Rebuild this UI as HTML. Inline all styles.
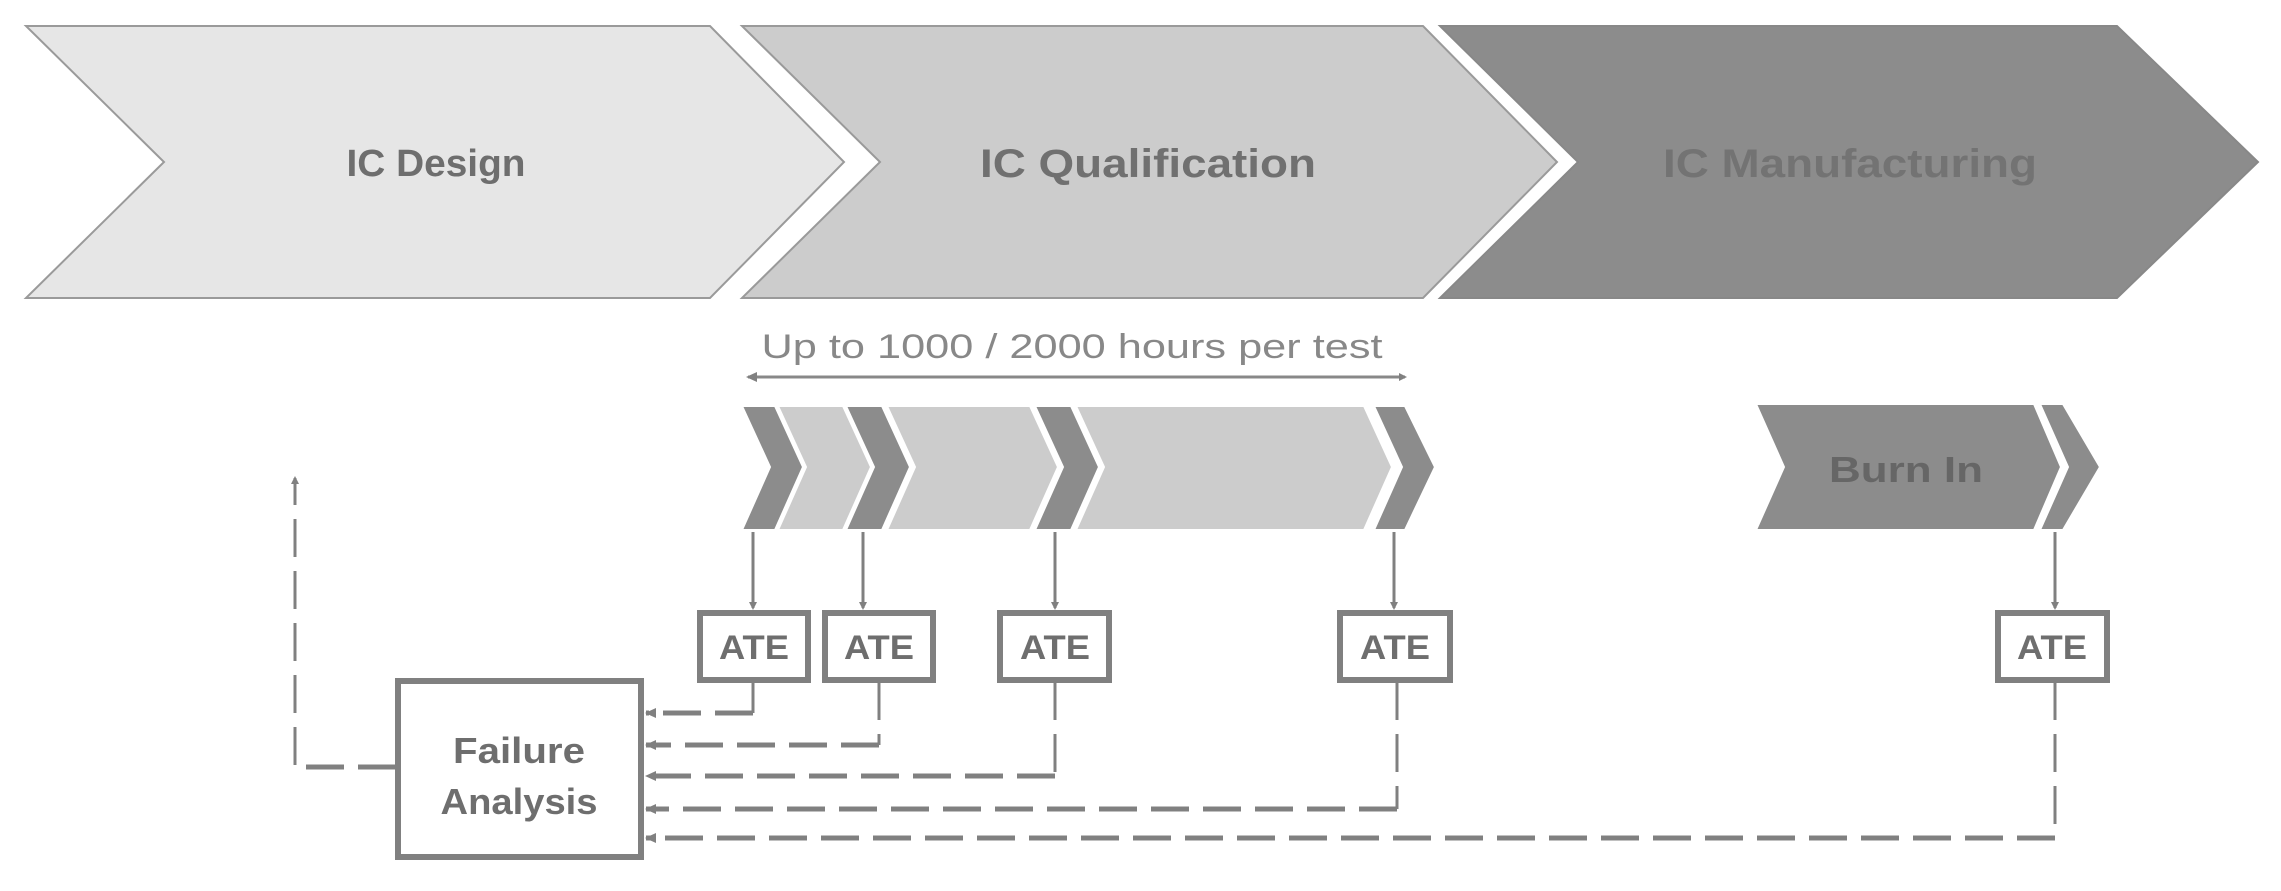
<!DOCTYPE html>
<html><head><meta charset="utf-8"><style>
html,body{margin:0;padding:0;background:#fff;}
svg{display:block;}
text{font-family:"Liberation Sans",sans-serif;}
</style></head><body>
<svg width="2281" height="891" viewBox="0 0 2281 891" xmlns="http://www.w3.org/2000/svg">
<defs>
<marker id="ah" markerWidth="8" markerHeight="8" refX="6" refY="4" orient="auto" markerUnits="userSpaceOnUse">
<path d="M0,0 L8,4 L0,8 z" fill="#808080"/></marker>
<marker id="ah2" markerWidth="12" markerHeight="12" refX="10" refY="6" orient="auto" markerUnits="userSpaceOnUse">
<path d="M0,1 L11,6 L0,11 z" fill="#808080"/></marker>
<marker id="ahs" markerWidth="12" markerHeight="12" refX="2" refY="6" orient="auto" markerUnits="userSpaceOnUse">
<path d="M11,1 L0,6 L11,11 z" fill="#808080"/></marker>
</defs>
<polygon points="26,26 710,26 844,162 710,298 26,298 164,162" fill="#e6e6e6" stroke="#9a9a9a" stroke-width="2"/>
<polygon points="742,26 1423,26 1557,162 1423,298 742,298 880,162" fill="#cccccc" stroke="#9a9a9a" stroke-width="2"/>
<polygon points="1440,26 2117,26 2258,162 2117,298 1440,298 1578,162" fill="#8c8c8c" stroke="#888" stroke-width="2"/>
<text x="436" y="176" font-size="38" font-weight="bold" fill="#6e6e6e" text-anchor="middle" textLength="179" lengthAdjust="spacingAndGlyphs">IC Design</text>
<text x="1148" y="177" font-size="40" font-weight="bold" fill="#707070" text-anchor="middle" textLength="336" lengthAdjust="spacingAndGlyphs">IC Qualification</text>
<text x="1850" y="177" font-size="40" font-weight="bold" fill="#737373" text-anchor="middle" textLength="374" lengthAdjust="spacingAndGlyphs">IC Manufacturing</text>
<text x="1072" y="358" font-size="34" fill="#888" text-anchor="middle" textLength="621" lengthAdjust="spacingAndGlyphs">Up to 1000 / 2000 hours per test</text>
<line x1="748" y1="377" x2="1405" y2="377" stroke="#888" stroke-width="3" marker-end="url(#ah)" marker-start="url(#ahs)"/>
<g stroke="#fff" stroke-width="2">
<polygon points="742,406 775,406 803,467 775,530 742,530 770,467" fill="#8c8c8c"/>
<polygon points="778,406 843,406 871,467 843,530 778,530 806,467" fill="#cccccc"/>
<polygon points="846,406 882,406 910,467 882,530 846,530 874,467" fill="#8c8c8c"/>
<polygon points="887,406 1030,406 1058,467 1030,530 887,530 915,467" fill="#cccccc"/>
<polygon points="1035,406 1071,406 1099,467 1071,530 1035,530 1063,467" fill="#8c8c8c"/>
<polygon points="1076,406 1364,406 1392,467 1364,530 1076,530 1104,467" fill="#cccccc"/>
<polygon points="1374,406 1405,406 1435,467 1405,530 1374,530 1402,467" fill="#8c8c8c"/>
<polygon points="1756,404 2034,404 2061,467 2034,530 1756,530 1784,467" fill="#8c8c8c"/>
<polygon points="2040,404 2063,404 2100,467 2063,530 2040,530 2068,467" fill="#8c8c8c"/>
</g>
<text x="1906" y="482" font-size="36" font-weight="bold" fill="#666" text-anchor="middle" textLength="154" lengthAdjust="spacingAndGlyphs">Burn In</text>
<g stroke="#808080" stroke-width="3" marker-end="url(#ah)">
<line x1="753" y1="532" x2="753" y2="608"/>
<line x1="863" y1="532" x2="863" y2="608"/>
<line x1="1055" y1="532" x2="1055" y2="608"/>
<line x1="1394" y1="532" x2="1394" y2="608"/>
<line x1="2055" y1="532" x2="2055" y2="608"/>
</g>
<g fill="#fff" stroke="#808080" stroke-width="6">
<rect x="700" y="613" width="108" height="67"/>
<rect x="825" y="613" width="108" height="67"/>
<rect x="1000" y="613" width="109" height="67"/>
<rect x="1340" y="613" width="110" height="67"/>
<rect x="1998" y="613" width="109" height="67"/>
</g>
<g font-size="34" font-weight="bold" fill="#6e6e6e" text-anchor="middle">
<text x="754" y="659" textLength="70" lengthAdjust="spacingAndGlyphs">ATE</text>
<text x="879" y="659" textLength="70" lengthAdjust="spacingAndGlyphs">ATE</text>
<text x="1055" y="659" textLength="70" lengthAdjust="spacingAndGlyphs">ATE</text>
<text x="1395" y="659" textLength="70" lengthAdjust="spacingAndGlyphs">ATE</text>
<text x="2052" y="659" textLength="70" lengthAdjust="spacingAndGlyphs">ATE</text>
</g>
<rect x="398" y="681" width="243" height="176" fill="#fff" stroke="#808080" stroke-width="6"/>
<text x="519" y="763" font-size="36" font-weight="bold" fill="#6e6e6e" text-anchor="middle" textLength="132" lengthAdjust="spacingAndGlyphs">Failure</text>
<text x="519" y="814" font-size="36" font-weight="bold" fill="#6e6e6e" text-anchor="middle" textLength="157" lengthAdjust="spacingAndGlyphs">Analysis</text>
<g fill="none" stroke="#808080" stroke-dasharray="38,14">
<g stroke-width="3">
<line x1="753" y1="682" x2="753" y2="713"/>
<line x1="879" y1="682" x2="879" y2="745"/>
<line x1="1055" y1="682" x2="1055" y2="776"/>
<line x1="1397" y1="682" x2="1397" y2="809"/>
<line x1="2055" y1="682" x2="2055" y2="838"/>
</g>
<g stroke-width="5" marker-end="url(#ah2)">
<polyline points="753,713 646,713"/>
<polyline points="879,745 646,745"/>
<polyline points="1055,776 646,776"/>
<polyline points="1397,809 646,809"/>
<polyline points="2055,838 646,838"/>
</g>
<polyline points="396,767 295,767" stroke-width="5"/>
<polyline points="295,765 295,478" stroke-width="3" marker-end="url(#ah)"/>
</g>
</svg>
</body></html>
